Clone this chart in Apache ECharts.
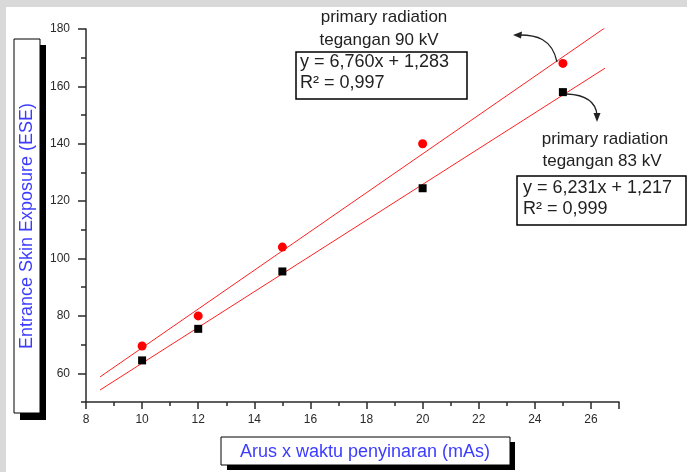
<!DOCTYPE html>
<html>
<head>
<meta charset="utf-8">
<script src="https://cdn.jsdelivr.net/npm/echarts@6/dist/echarts.min.js"></script>
<style>
  html, body { margin: 0; padding: 0; background: #ffffff; }
  #chart { width: 687px; height: 472px; }
</style>
</head>
<body>
<div id="chart"></div>
<script>
// Measured exposure (ESE) against tube current x exposure time (mAs)
const mAs = [10, 12, 15, 20, 25];
const ese90kV = [69.5, 80, 104, 140, 168];
const ese83kV = [64.5, 75.5, 95.5, 124.5, 158];

// Linear fits as stated in the annotation boxes
const fit90kV = { slope: 6.760, intercept: 1.283 };
const fit83kV = { slope: 6.231, intercept: 1.217 };
const fitRange = [8.5, 26.5];

// Axis ranges and tick values
const xRange = { min: 8, max: 27, interval: 2 };
const yRange = { min: 50, max: 180, interval: 10 };
const yMajorTicks = [60, 80, 100, 120, 140, 160, 180];
const yMinorTicks = [50, 70, 90, 110, 130, 150, 170];

const fitLine = (fit) => fitRange.map(x => [x, fit.slope * x + fit.intercept]);
const pairs = (xs, ys) => xs.map((x, i) => [x, ys[i]]);

const FONT = '"Liberation Sans", Arial, sans-serif';
const BLUE = '#3c3cff';
const AXIS = '#2a2a2a';

const chart = echarts.init(document.getElementById('chart'), null, { renderer: 'canvas' });

chart.setOption({
  backgroundColor: '#ffffff',
  animation: false,
  grid: { left: 86, top: 29, width: 533, height: 373, containLabel: false },
  xAxis: {
    type: 'value',
    min: xRange.min, max: xRange.max, interval: xRange.interval,
    axisLine: { show: true, onZero: false, lineStyle: { color: AXIS, width: 1.5 } },
    axisTick: { show: true, inside: false, length: 7, lineStyle: { color: AXIS, width: 1.5 } },
    minorTick: { show: true, splitNumber: 2, length: 4, lineStyle: { color: AXIS, width: 1.5 } },
    splitLine: { show: false },
    axisLabel: {
      margin: 12, color: AXIS, fontSize: 12, fontFamily: FONT,
      formatter: (v) => (v > 26 ? '' : String(v))
    }
  },
  yAxis: [
    {
      type: 'value',
      min: yRange.min, max: yRange.max, interval: yRange.interval,
      axisLine: { show: true, onZero: false, lineStyle: { color: AXIS, width: 1.5 } },
      axisTick: { show: true, inside: false, length: 8, customValues: yMajorTicks, lineStyle: { color: AXIS, width: 1.5 } },
      splitLine: { show: false },
      axisLabel: { margin: 16, color: AXIS, fontSize: 12, fontFamily: FONT, customValues: yMajorTicks }
    },
    {
      // short intermediate ticks on the same scale
      type: 'value', position: 'left',
      min: yRange.min, max: yRange.max, interval: yRange.interval,
      axisLine: { show: false },
      axisTick: { show: true, inside: false, length: 5, customValues: yMinorTicks, lineStyle: { color: AXIS, width: 1.5 } },
      splitLine: { show: false },
      axisLabel: { show: false }
    }
  ],
  series: [
    {
      name: 'fit 90 kV', type: 'line', data: fitLine(fit90kV),
      showSymbol: false, symbol: 'none', silent: true,
      lineStyle: { color: '#ff2020', width: 1 }, z: 2
    },
    {
      name: 'fit 83 kV', type: 'line', data: fitLine(fit83kV),
      showSymbol: false, symbol: 'none', silent: true,
      lineStyle: { color: '#ff2020', width: 1 }, z: 2
    },
    {
      name: '90 kV', type: 'scatter', data: pairs(mAs, ese90kV),
      symbol: 'circle', symbolSize: 9,
      itemStyle: { color: '#ff0000', opacity: 1 }, z: 3
    },
    {
      name: '83 kV', type: 'scatter', data: pairs(mAs, ese83kV),
      symbol: 'rect', symbolSize: 8,
      itemStyle: { color: '#000000', opacity: 1 }, z: 3
    }
  ],
  graphic: [
    // grey margins around the white page
    { type: 'rect', shape: { x: 0, y: 0, width: 687, height: 7 }, style: { fill: '#d9d9d9' }, z: 0, silent: true },
    { type: 'rect', shape: { x: 0, y: 0, width: 6, height: 472 }, style: { fill: '#d9d9d9' }, z: 0, silent: true },

    // y-axis title box with drop shadow
    { type: 'rect', shape: { x: 20, y: 45, width: 26, height: 375 }, style: { fill: '#000' }, z: 10 },
    { type: 'rect', shape: { x: 14, y: 39, width: 26, height: 374 }, style: { fill: '#fff', stroke: '#000', lineWidth: 1 }, z: 11 },
    {
      type: 'text', x: 27, y: 226, rotation: Math.PI / 2, z: 12,
      style: {
        text: 'Entrance Skin Exposure (ESE)', fill: BLUE,
        font: '18px ' + FONT, textAlign: 'center', textVerticalAlign: 'middle'
      }
    },

    // x-axis title box with drop shadow
    { type: 'rect', shape: { x: 227, y: 442, width: 288, height: 28 }, style: { fill: '#000' }, z: 10 },
    { type: 'rect', shape: { x: 221, y: 437, width: 289, height: 28 }, style: { fill: '#fff', stroke: '#000', lineWidth: 1 }, z: 11 },
    {
      type: 'text', x: 365, y: 452, z: 12,
      style: {
        text: 'Arus x waktu penyinaran (mAs)', fill: BLUE,
        font: '18px ' + FONT, textAlign: 'center', textVerticalAlign: 'middle'
      }
    },

    // 90 kV annotation
    {
      type: 'text', x: 384, y: 17, z: 12,
      style: { text: 'primary radiation', fill: '#222', font: '17px ' + FONT, textAlign: 'center', textVerticalAlign: 'middle' }
    },
    {
      type: 'text', x: 379, y: 40, z: 12,
      style: { text: 'tegangan 90 kV', fill: '#222', font: '17px ' + FONT, textAlign: 'center', textVerticalAlign: 'middle' }
    },
    { type: 'rect', shape: { x: 296, y: 52, width: 171, height: 47 }, style: { fill: '#fff', stroke: '#000', lineWidth: 1.5 }, z: 11 },
    {
      type: 'text', x: 300, y: 62, z: 12,
      style: { text: 'y = 6,760x + 1,283', fill: '#222', font: '18px ' + FONT, textAlign: 'left', textVerticalAlign: 'middle' }
    },
    {
      type: 'text', x: 300, y: 83, z: 12,
      style: { text: 'R² = 0,997', fill: '#222', font: '18px ' + FONT, textAlign: 'left', textVerticalAlign: 'middle' }
    },

    // 83 kV annotation
    {
      type: 'text', x: 605, y: 139, z: 12,
      style: { text: 'primary radiation', fill: '#222', font: '17px ' + FONT, textAlign: 'center', textVerticalAlign: 'middle' }
    },
    {
      type: 'text', x: 602, y: 161, z: 12,
      style: { text: 'tegangan 83 kV', fill: '#222', font: '17px ' + FONT, textAlign: 'center', textVerticalAlign: 'middle' }
    },
    { type: 'rect', shape: { x: 517, y: 176, width: 169, height: 49 }, style: { fill: '#fff', stroke: '#000', lineWidth: 1.5 }, z: 11 },
    {
      type: 'text', x: 523, y: 188, z: 12,
      style: { text: 'y = 6,231x + 1,217', fill: '#222', font: '18px ' + FONT, textAlign: 'left', textVerticalAlign: 'middle' }
    },
    {
      type: 'text', x: 523, y: 209, z: 12,
      style: { text: 'R² = 0,999', fill: '#222', font: '18px ' + FONT, textAlign: 'left', textVerticalAlign: 'middle' }
    },

    // curved pointer arrows
    {
      type: 'bezierCurve', z: 12,
      shape: { x1: 557, y1: 62, x2: 520, y2: 35, cpx1: 552, cpy1: 38, cpx2: 535, cpy2: 35 },
      style: { stroke: '#222', lineWidth: 1.3, fill: null }
    },
    {
      type: 'polygon', z: 12,
      shape: { points: [[513, 35], [522, 31.5], [521, 38.5]] },
      style: { fill: '#222' }
    },
    {
      type: 'bezierCurve', z: 12,
      shape: { x1: 567, y1: 94, x2: 597, y2: 115, cpx1: 588, cpy1: 95, cpx2: 596, cpy2: 104 },
      style: { stroke: '#222', lineWidth: 1.3, fill: null }
    },
    {
      type: 'polygon', z: 12,
      shape: { points: [[597, 122], [593.5, 113], [600.5, 113]] },
      style: { fill: '#222' }
    }
  ]
});
</script>
</body>
</html>
